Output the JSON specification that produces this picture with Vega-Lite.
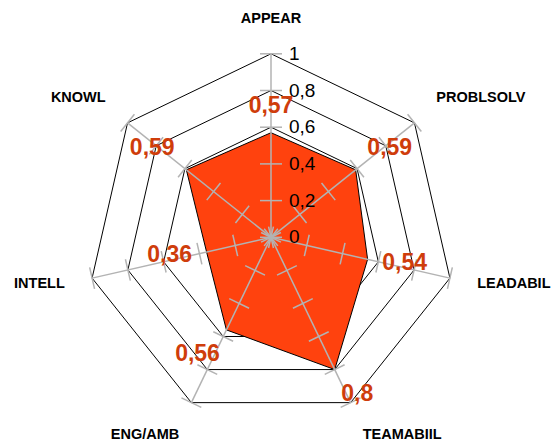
{
  "$schema": "https://vega.github.io/schema/vega-lite/v6.json",
  "width": 554,
  "height": 448,
  "padding": 0,
  "autosize": {"type": "fit", "contains": "padding"},
  "background": "white",
  "config": {"view": {"stroke": null}},
  "datasets": {
    "scores": [
      {"axis": "APPEAR", "i": 0, "value": 0.57},
      {"axis": "PROBLSOLV", "i": 1, "value": 0.59},
      {"axis": "LEADABIL", "i": 2, "value": 0.54},
      {"axis": "TEAMABIIL", "i": 3, "value": 0.8},
      {"axis": "ENG/AMB", "i": 4, "value": 0.56},
      {"axis": "INTELL", "i": 5, "value": 0.36},
      {"axis": "KNOWL", "i": 6, "value": 0.59}
    ],
    "spokes": [
      {"i": 0, "levels": [0, 0.2, 0.4, 0.6, 0.8, 1]},
      {"i": 1, "levels": [0, 0.2, 0.4, 0.6, 0.8, 1]},
      {"i": 2, "levels": [0, 0.2, 0.4, 0.6, 0.8, 1]},
      {"i": 3, "levels": [0, 0.2, 0.4, 0.6, 0.8, 1]},
      {"i": 4, "levels": [0, 0.2, 0.4, 0.6, 0.8, 1]},
      {"i": 5, "levels": [0, 0.2, 0.4, 0.6, 0.8, 1]},
      {"i": 6, "levels": [0, 0.2, 0.4, 0.6, 0.8, 1]}
    ]
  },
  "encoding": {
    "x": {"field": "x", "type": "quantitative", "scale": {"domain": [-271, 283], "nice": false, "zero": false}, "axis": null},
    "y": {"field": "y", "type": "quantitative", "scale": {"domain": [-210.7, 237.3], "nice": false, "zero": false}, "axis": null}
  },
  "layer": [
    {
      "data": {"name": "spokes"},
      "transform": [
        {"flatten": ["levels"], "as": ["level"]},
        {"filter": "datum.level >= 0.6"},
        {"calculate": "datum.i*2*PI/7", "as": "a"},
        {"calculate": "datum.level*183.5*sin(datum.a)", "as": "x"},
        {"calculate": "datum.level*183.5*cos(datum.a)", "as": "y"}
      ],
      "mark": {"type": "line", "interpolate": "linear-closed", "stroke": "#000000", "strokeWidth": 1},
      "encoding": {
        "detail": {"field": "level", "type": "quantitative"},
        "order": {"field": "i", "type": "quantitative"}
      }
    },
    {
      "data": {"name": "scores"},
      "transform": [
        {"calculate": "datum.i*2*PI/7", "as": "a"},
        {"calculate": "datum.value*183.5*sin(datum.a)", "as": "x"},
        {"calculate": "datum.value*183.5*cos(datum.a)", "as": "y"}
      ],
      "mark": {"type": "line", "interpolate": "linear-closed", "fill": "#ff420e", "stroke": "#000000", "strokeWidth": 1},
      "encoding": {
        "order": {"field": "i", "type": "quantitative"}
      }
    },
    {
      "data": {"name": "spokes"},
      "transform": [
        {"calculate": "datum.i*2*PI/7", "as": "a"},
        {"calculate": "0", "as": "x"},
        {"calculate": "0", "as": "y"},
        {"calculate": "183.5*sin(datum.a)", "as": "x2"},
        {"calculate": "183.5*cos(datum.a)", "as": "y2"}
      ],
      "mark": {"type": "rule", "color": "#b3b3b3", "strokeWidth": 1.5},
      "encoding": {
        "x2": {"field": "x2"},
        "y2": {"field": "y2"}
      }
    },
    {
      "data": {"name": "spokes"},
      "transform": [
        {"flatten": ["levels"], "as": ["level"]},
        {"calculate": "datum.i*2*PI/7", "as": "a"},
        {"calculate": "datum.level*183.5*sin(datum.a) - 11*cos(datum.a)", "as": "x"},
        {"calculate": "datum.level*183.5*cos(datum.a) + 11*sin(datum.a)", "as": "y"},
        {"calculate": "datum.level*183.5*sin(datum.a) + 11*cos(datum.a)", "as": "x2"},
        {"calculate": "datum.level*183.5*cos(datum.a) - 11*sin(datum.a)", "as": "y2"}
      ],
      "mark": {"type": "rule", "color": "#b3b3b3", "strokeWidth": 1.5},
      "encoding": {
        "x2": {"field": "x2"},
        "y2": {"field": "y2"}
      }
    },
    {
      "data": {"name": "spokes"},
      "transform": [
        {"filter": "datum.i == 0"},
        {"flatten": ["levels"], "as": ["level"]},
        {"calculate": "0", "as": "x"},
        {"calculate": "datum.level*183.5", "as": "y"},
        {"calculate": "replace('' + datum.level, '.', ',')", "as": "lbl"}
      ],
      "mark": {"type": "text", "align": "left", "baseline": "middle", "dx": 18, "fontSize": 19, "font": "Liberation Sans", "color": "#000000"},
      "encoding": {
        "text": {"field": "lbl", "type": "nominal"}
      }
    },
    {
      "data": {"name": "scores"},
      "transform": [
        {"calculate": "datum.i*2*PI/7", "as": "a"},
        {"calculate": "sin(datum.a)", "as": "s"},
        {"calculate": "cos(datum.a)", "as": "c"},
        {"calculate": "datum.value*183.5 + 15", "as": "rr"},
        {"calculate": "datum.rr*datum.s", "as": "x"},
        {"calculate": "datum.rr*datum.c", "as": "y"},
        {"calculate": "replace('' + datum.value, '.', ',')", "as": "lbl"}
      ],
      "mark": {
        "type": "text",
        "align": {"expr": "datum.s > 0.1 ? 'left' : (datum.s < -0.1 ? 'right' : 'center')"},
        "baseline": {"expr": "datum.c > 0.5 ? 'bottom' : (datum.c < -0.5 ? 'top' : 'middle')"},
        "fontSize": 23,
        "fontWeight": "bold",
        "font": "Liberation Sans",
        "color": "#cf3d0b"
      },
      "encoding": {
        "text": {"field": "lbl", "type": "nominal"}
      }
    },
    {
      "data": {"name": "scores"},
      "transform": [
        {"calculate": "datum.i*2*PI/7", "as": "a"},
        {"calculate": "sin(datum.a)", "as": "s"},
        {"calculate": "cos(datum.a)", "as": "c"},
        {"calculate": "183.5 + 28", "as": "rr"},
        {"calculate": "datum.rr*datum.s", "as": "x"},
        {"calculate": "datum.rr*datum.c", "as": "y"}
      ],
      "mark": {
        "type": "text",
        "align": {"expr": "datum.s > 0.1 ? 'left' : (datum.s < -0.1 ? 'right' : 'center')"},
        "baseline": {"expr": "datum.c > 0.5 ? 'bottom' : (datum.c < -0.5 ? 'top' : 'middle')"},
        "fontSize": 14.5,
        "fontWeight": "bold",
        "font": "Liberation Sans",
        "color": "#000000"
      },
      "encoding": {
        "text": {"field": "axis", "type": "nominal"}
      }
    }
  ]
}
